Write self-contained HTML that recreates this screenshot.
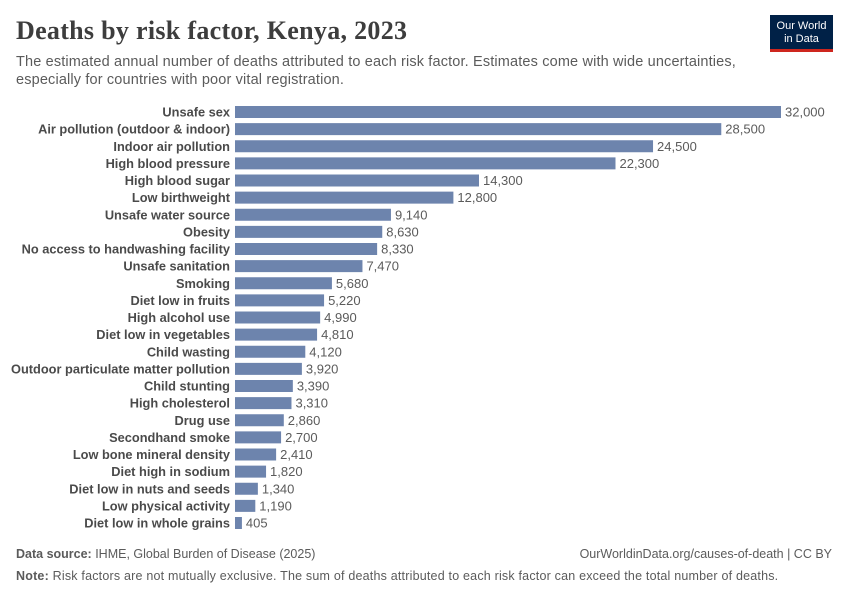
<!DOCTYPE html>
<html><head><meta charset="utf-8"><style>
body{margin:0;width:850px;height:600px;background:#fff;font-family:"Liberation Sans",sans-serif;position:relative;overflow:hidden}
.t{position:absolute;white-space:nowrap}
</style></head><body>
<div class="t" style="left:16px;top:16px;font-family:'Liberation Serif',serif;font-size:26px;letter-spacing:0.3px;font-weight:bold;color:#3d3d3d">Deaths by risk factor, Kenya, 2023</div>
<div class="t" style="left:16px;top:53px;font-size:14.5px;letter-spacing:0.15px;line-height:18px;color:#5b5b5b">The estimated annual number of deaths attributed to each risk factor. Estimates come with wide uncertainties,<br>especially for countries with poor vital registration.</div>
<div style="position:absolute;left:770px;top:15px;width:63px;height:37px;background:#002147;border-bottom:3px solid #ce261e;box-sizing:border-box;color:#fff;font-size:11px;line-height:13px;text-align:center;padding-top:5px">Our World<br>in Data</div>
<svg id="c" width="850" height="600" style="position:absolute;left:0;top:0"></svg>
<div class="t" style="left:16px;top:547px;font-size:12.5px;color:#5b5b5b"><b>Data source:</b> IHME, Global Burden of Disease (2025)</div>
<div class="t" style="right:18px;top:547px;font-size:12.5px;color:#5b5b5b">OurWorldinData.org/causes-of-death | CC BY</div>
<div class="t" style="left:16px;top:569px;font-size:12.5px;letter-spacing:0.2px;color:#5b5b5b"><b>Note:</b> Risk factors are not mutually exclusive. The sum of deaths attributed to each risk factor can exceed the total number of deaths.</div>
<script>
const categories=["Unsafe sex","Air pollution (outdoor & indoor)","Indoor air pollution","High blood pressure","High blood sugar","Low birthweight","Unsafe water source","Obesity","No access to handwashing facility","Unsafe sanitation","Smoking","Diet low in fruits","High alcohol use","Diet low in vegetables","Child wasting","Outdoor particulate matter pollution","Child stunting","High cholesterol","Drug use","Secondhand smoke","Low bone mineral density","Diet high in sodium","Diet low in nuts and seeds","Low physical activity","Diet low in whole grains"];
const values=[32000,28500,24500,22300,14300,12800,9140,8630,8330,7470,5680,5220,4990,4810,4120,3920,3390,3310,2860,2700,2410,1820,1340,1190,405];
const svg=document.getElementById('c');const NS='http://www.w3.org/2000/svg';
const x0=235,xw=546,maxV=32000,y0=112,step=(523-112)/24,bh=12;
const xs=v=>v/maxV*xw;const ys=i=>y0+i*step;
categories.forEach((c,i)=>{
const y=ys(i);
const r=document.createElementNS(NS,'rect');


r.setAttribute('x',x0);r.setAttribute('y',y-bh/2);r.setAttribute('width',xs(values[i]));r.setAttribute('height',bh);r.setAttribute('fill','#6d84ad');svg.appendChild(r);
const l=document.createElementNS(NS,'text');


l.setAttribute('x',x0-5);l.setAttribute('y',y+4.5);l.setAttribute('text-anchor','end');l.setAttribute('font-size','12.8');l.setAttribute('font-weight','bold');l.setAttribute('fill','#4a4a4a');l.textContent=c;svg.appendChild(l);
const v=document.createElementNS(NS,'text');


v.setAttribute('x',x0+xs(values[i])+4);v.setAttribute('y',y+4.5);v.setAttribute('font-size','13');v.setAttribute('fill','#5b5b5b');v.textContent=values[i].toLocaleString('en-US');svg.appendChild(v);
});
</script>
</body></html>
